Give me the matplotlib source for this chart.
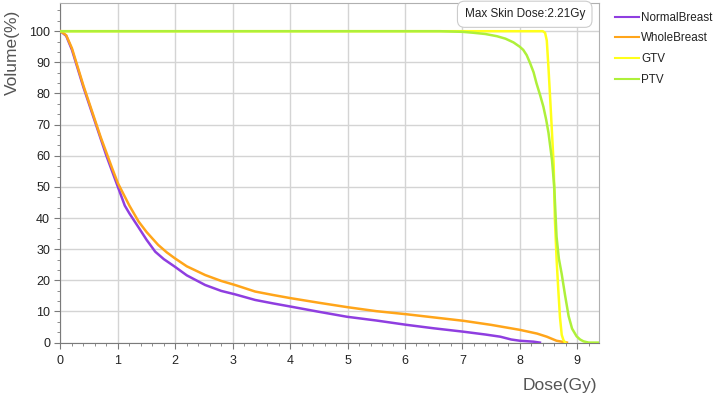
import matplotlib
matplotlib.use("Agg")
import matplotlib.pyplot as plt
from matplotlib.ticker import MultipleLocator, AutoMinorLocator
from matplotlib.lines import Line2D

plt.rcParams['font.family'] = ['Liberation Sans', 'DejaVu Sans']

# DVH curves (dose in Gy, volume in %)
normal_dose = [0, 0.1, 0.2, 0.3, 0.4, 0.5, 0.6, 0.7, 0.8, 0.9, 1.0, 1.06, 1.12, 1.2, 1.36,
               1.5, 1.65, 1.8, 1.99, 2.2, 2.52, 2.8, 3.04, 3.39, 3.7, 4.0, 4.5, 4.99, 5.5,
               6.03, 6.5, 7.02, 7.4, 7.66, 7.85, 8.0, 8.24, 8.35]
normal_vol = [100, 98.5, 94, 88, 82, 76.5, 71, 65.5, 60, 55, 50, 47, 44, 41.5, 37,
              33, 29.2, 26.8, 24.4, 21.6, 18.5, 16.6, 15.5, 13.7, 12.6, 11.6, 9.9, 8.3, 7.1,
              5.7, 4.6, 3.5, 2.6, 1.9, 1.0, 0.6, 0.3, 0]

whole_dose = [0, 0.1, 0.2, 0.3, 0.4, 0.5, 0.6, 0.7, 0.8, 0.9, 1.0, 1.2, 1.36, 1.5, 1.70,
              1.85, 1.99, 2.2, 2.52, 2.8, 3.04, 3.39, 3.7, 4.0, 4.5, 4.99, 5.5, 6.03, 6.5,
              7.02, 7.5, 8.0, 8.3, 8.47, 8.64, 8.82]
whole_vol = [100, 98.7, 94.5, 88.5, 82.5, 77, 71.5, 66, 61, 56, 51.2, 44, 38.9, 35.5, 31.4,
             29, 27.1, 24.5, 21.7, 19.8, 18.5, 16.4, 15.3, 14.3, 12.8, 11.4, 10.1, 9.1, 8.1,
             7.0, 5.7, 4.1, 2.9, 1.9, 0.6, 0]

gtv_dose = [0, 8.40, 8.44, 8.47, 8.50, 8.53, 8.59, 8.61, 8.64, 8.67, 8.70, 8.73, 8.76, 8.79]
gtv_vol = [100, 100, 99.5, 97, 88, 78, 57, 40, 27, 17, 8, 2.5, 0.8, 0]

ptv_dose = [0, 6.61, 7.0, 7.19, 7.4, 7.60, 7.75, 7.89, 8.0, 8.06, 8.12, 8.18, 8.24, 8.29,
            8.35, 8.41, 8.46, 8.50, 8.56, 8.60, 8.64, 8.68, 8.73, 8.79, 8.85, 8.91, 8.99,
            9.05, 9.11, 9.2, 9.36]
ptv_vol = [100, 100, 99.8, 99.5, 99.1, 98.4, 97.6, 96.4, 95, 94, 92.3, 89.7, 86.8, 83.3,
           79.7, 75.8, 71.5, 67.3, 58.7, 50, 34, 27, 22, 15, 8.5, 4.5, 2.0,
           1.0, 0.4, 0, 0]

names = ["NormalBreast", "WholeBreast", "GTV", "PTV"]
colors = ["#8f3ee0", "#ffa51a", "#ffff1a", "#aef03a"]

fig = plt.figure(figsize=(7.14, 3.97), dpi=100)
ax = fig.add_axes([0.0847, 0.137, 0.7543, 0.855])

ax.plot(normal_dose, normal_vol, color=colors[0], lw=1.8, zorder=3)
ax.plot(whole_dose, whole_vol, color=colors[1], lw=1.8, zorder=3)
ax.plot(gtv_dose, gtv_vol, color=colors[2], lw=1.8, zorder=4)
ax.plot(ptv_dose, ptv_vol, color=colors[3], lw=1.8, zorder=5)

ax.set_xlim(0, 9.38)
ax.set_ylim(0, 109)
ax.xaxis.set_major_locator(MultipleLocator(1))
ax.xaxis.set_minor_locator(AutoMinorLocator(5))
ax.yaxis.set_major_locator(MultipleLocator(10))
ax.yaxis.set_minor_locator(AutoMinorLocator(3))
ax.yaxis.set_major_formatter(plt.FuncFormatter(lambda v, p: "%d" % v if v <= 100 else ""))
ax.grid(True, which="major", color="#d4d4d4", lw=1)
ax.set_axisbelow(True)

for s in ["left", "bottom"]:
    ax.spines[s].set_color("#7a7a7a")
for s in ["top", "right"]:
    ax.spines[s].set_color("#b0b0b0")
ax.tick_params(which="major", length=4, color="#7a7a7a", labelsize=9, labelcolor="#222222")
ax.tick_params(which="minor", length=2, color="#7a7a7a")
ax.tick_params(axis="x", pad=5)

fig.text(0.017, 0.869, "Volume(%)", fontsize=12.5, color="#555555", rotation=90,
         ha="center", va="center")
fig.text(0.836, 0.030, "Dose(Gy)", fontsize=12.5, color="#555555", ha="right", va="center")

ax.text(0.862, 0.985, "Max Skin Dose:2.21Gy", transform=ax.transAxes, ha="center", va="top",
        fontsize=8.5, color="#222222",
        bbox=dict(boxstyle="round,pad=0.6", fc="white", ec="#cccccc", lw=0.8), zorder=6)

handles = [Line2D([], [], color=c, lw=1.5) for c in colors]
fig.legend(handles, names, loc="upper left", bbox_to_anchor=(0.846, 0.997), frameon=False,
           fontsize=8.4, handlelength=2.1, handletextpad=0.2, labelspacing=0.74,
           labelcolor="#222222")

fig.savefig("out.png", dpi=100)
